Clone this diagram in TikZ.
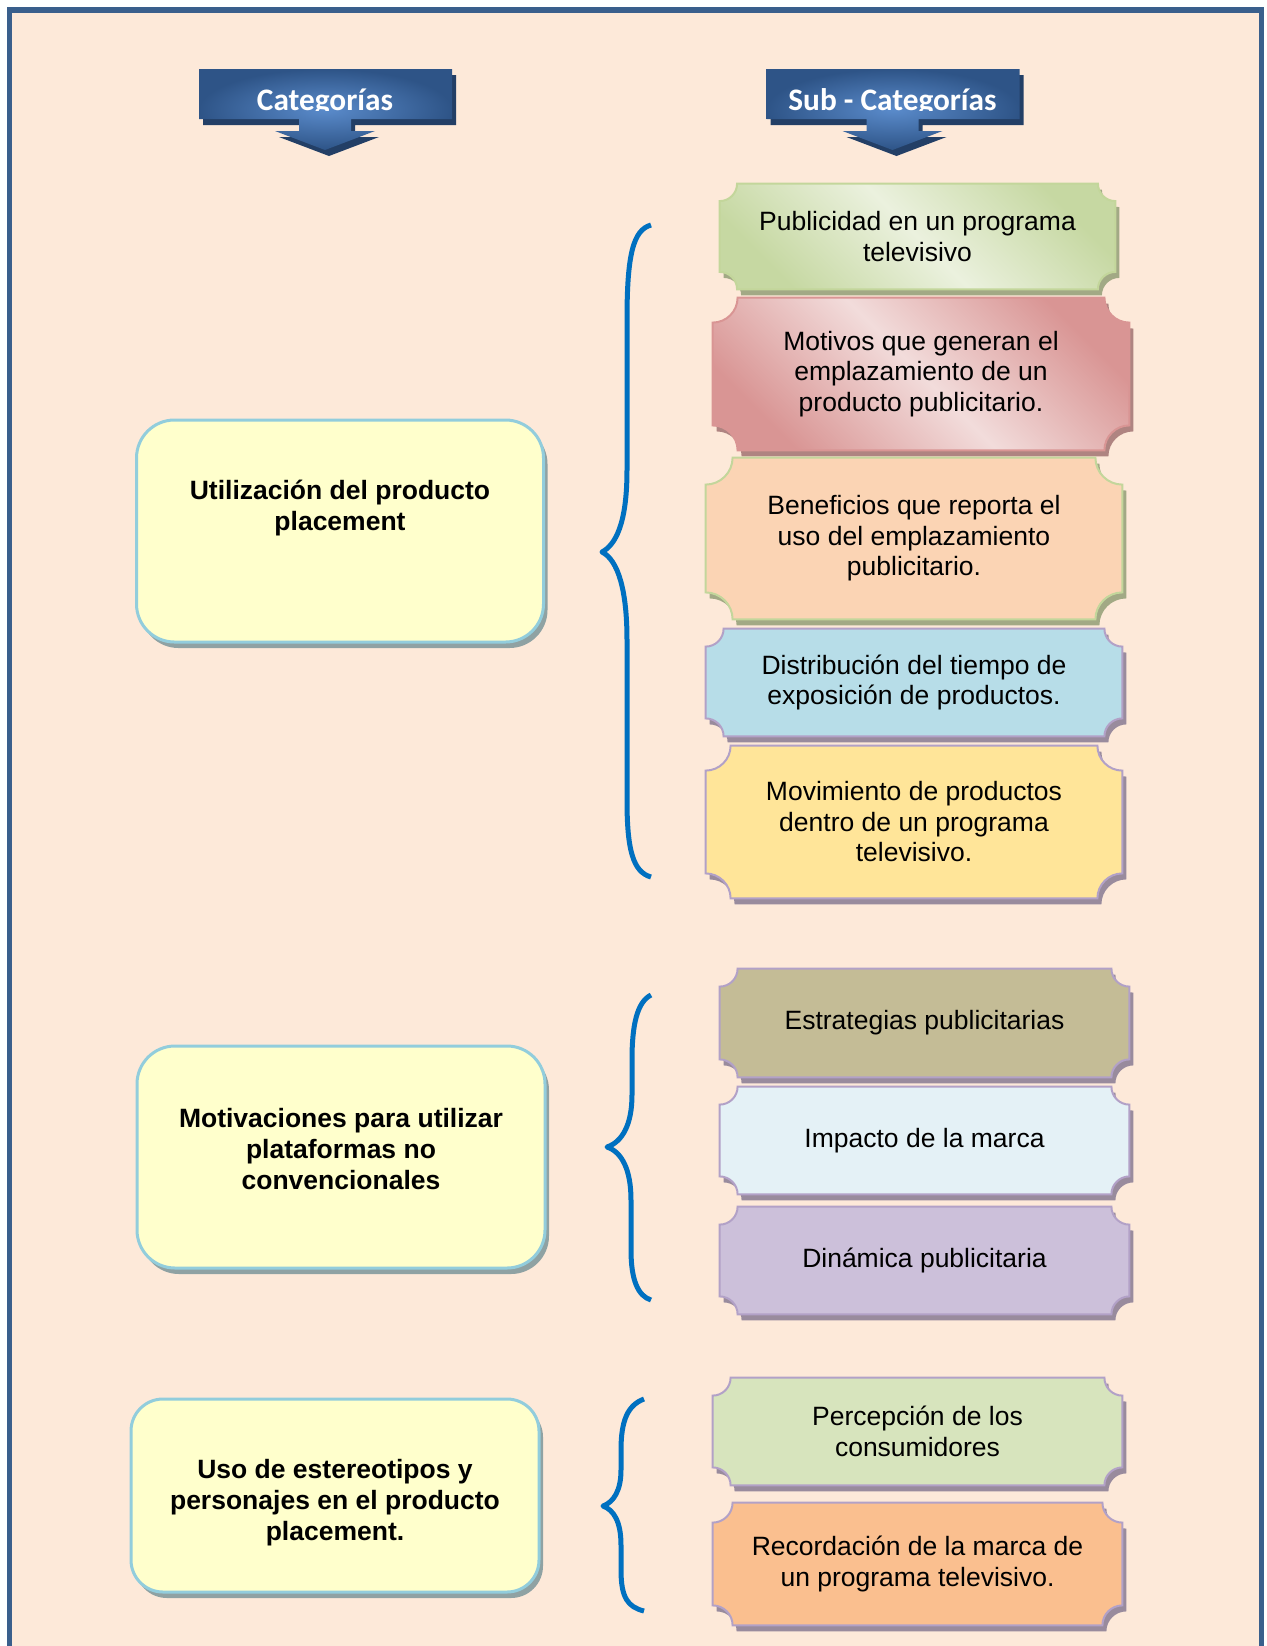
\documentclass[tikz,border=0pt]{standalone}
\usepackage{fontspec}
\setmainfont{Liberation Sans}
\newfontfamily\bannerfont{Carlito}
\usetikzlibrary{calc,shadows}

\definecolor{paper}{HTML}{FDE9D9}
\definecolor{frame}{HTML}{3A5F8C}
\definecolor{catfill}{HTML}{FFFFCC}
\definecolor{catline}{HTML}{92CDDC}
\definecolor{catshadow}{HTML}{8FA2A3}
\definecolor{bracecol}{HTML}{0070C0}
\definecolor{bannerlight}{HTML}{5A8BCB}
\definecolor{bannerdark}{HTML}{2E5487}
\definecolor{bannershade}{HTML}{233F66}
\definecolor{greenline}{HTML}{C3D69B}
\definecolor{greendark}{HTML}{C6D8A2}
\definecolor{greenlight}{HTML}{EBF1DE}
\definecolor{pinkline}{HTML}{D99594}
\definecolor{pinklight}{HTML}{F2DCDB}
\definecolor{lilacline}{HTML}{B2A1C7}
\definecolor{fillbenef}{HTML}{FBD4B4}
\definecolor{filldist}{HTML}{B7DDE8}
\definecolor{fillmov}{HTML}{FFE599}
\definecolor{fillestr}{HTML}{C4BC96}
\definecolor{fillimp}{HTML}{E4F1F6}
\definecolor{filldin}{HTML}{CCC0DA}
\definecolor{fillperc}{HTML}{D7E4BD}
\definecolor{fillrec}{HTML}{FABF8F}

\pgfdeclarelayer{paper}
\pgfdeclarelayer{back}
\pgfsetlayers{paper,back,main}

% Schild mit eingezogenen Ecken um einen Knoten
\newcommand\plaquepath[2]{($(#1.north west)+(#2,0)$) -- ($(#1.north east)+(-#2,0)$)
  .. controls +(0,0.552*#2) and +(-0.552*#2,0) .. ($(#1.north east)+(0,#2)$)
  -- ($(#1.south east)+(0,-#2)$)
  .. controls +(-0.552*#2,0) and +(0,-0.552*#2) .. ($(#1.south east)+(-#2,0)$)
  -- ($(#1.south west)+(#2,0)$)
  .. controls +(0,-0.552*#2) and +(0.552*#2,0) .. ($(#1.south west)+(0,-#2)$)
  -- ($(#1.north west)+(0,#2)$)
  .. controls +(0.552*#2,0) and +(0,0.552*#2) .. ($(#1.north west)+(#2,0)$) -- cycle}
\newcommand\plaque[4]{%
  \begin{pgfonlayer}{back}
    \path[draw=#3, line width=1pt,
      drop shadow={shadow xshift=2pt, shadow yshift=-3pt, fill=#3!72!black, opacity=.8}, #4]
      \plaquepath{#1}{#2};
  \end{pgfonlayer}}

\tikzset{
  catbox/.style={draw=catline, line width=1.5pt, fill=catfill, rounded corners=19pt,
    drop shadow={shadow xshift=2pt, shadow yshift=-3pt, fill=catshadow, opacity=1}},
  cattext/.style={font=\fontsize{13.25}{15.5}\selectfont\bfseries, align=center, inner sep=0pt},
  subbox/.style={align=center, inner sep=0pt, font=\fontsize{13.25}{15.25}\selectfont},
  curly/.style={draw=bracecol, line width=2.5pt, line join=round},
  banner/.style={inner color=bannerlight, outer color=bannerdark,
    drop shadow={shadow xshift=2pt, shadow yshift=-3pt, fill=bannershade, opacity=1}},
  bannertext/.style={font=\bannerfont\bfseries\fontsize{15.65}{18}\selectfont, text=white, inner sep=0pt},
}

\begin{document}
\begin{tikzpicture}[x=0.5pt, y=-0.5pt]
\useasboundingbox (0,0) rectangle (1267,1646);
% Hintergrund und Rahmen
\begin{pgfonlayer}{paper}
  \filldraw[fill=paper, draw=frame, line width=2.75pt] (9.5,10) rectangle (1261.5,1700);
\end{pgfonlayer}
% Kopfbanner mit Pfeil
\foreach \cx/\nm/\txt in {325/cathead/Categorías, 892.5/subhead/Sub - Categorías}{
  \path[banner] (\cx-126,69) -- (\cx+127,69) -- (\cx+127,119) -- (\cx+26,119) -- (\cx+26,131)
    -- (\cx+50,131) -- (\cx,150) -- (\cx-50,131) -- (\cx-26,131) -- (\cx-26,119)
    -- (\cx-126,119) -- cycle;
  \begin{scope}
    \clip (\cx-126,69) rectangle (\cx+127,110.5);
    \node[bannertext, anchor=base] (\nm) at (\cx,110) {\txt};
  \end{scope}
}
% Kategorien links
\node[catbox, minimum width=203.5pt, minimum height=111pt] (c1) at (340,531) {};
\node[cattext] (c1t) at ([yshift=11.5pt]c1.center) {Utilización del producto\\placement};
\node[catbox, minimum width=204pt, minimum height=111pt] (c2) at (341,1157) {};
\node[cattext] (c2t) at ([yshift=4pt]c2.center) {Motivaciones para utilizar\\plataformas no\\convencionales};
\node[catbox, rounded corners=16pt, minimum width=204pt, minimum height=96.5pt] (c3) at (335,1495.5) {};
\node[cattext] (c3t) at ([yshift=-3.5pt]c3.center) {Uso de estereotipos y\\personajes en el producto\\placement.};
% Unterkategorien rechts
\node[subbox, minimum width=197.5pt, minimum height=52.5pt] (s1) at (917.5,236.5) {Publicidad en un programa\\televisivo};
\plaque{s1}{17.5}{greenline}{top color=greendark, bottom color=greendark, middle color=greenlight, shading angle=-45}
\node[subbox, minimum width=208pt, minimum height=76pt] (s2) at (921,374) {Motivos que generan el\\emplazamiento de un\\producto publicitario.};
\plaque{s2}{25}{pinkline}{top color=pinkline, bottom color=pinkline, middle color=pinklight, shading angle=-45}
\node[subbox, minimum width=208pt, minimum height=80.5pt] (s3) at (914,538.5) {Beneficios que reporta el\\uso del emplazamiento\\publicitario.};
\plaque{s3}{27}{greenline}{fill=fillbenef}
\node[subbox, minimum width=208pt, minimum height=53.5pt] (s4) at (914,682.5) {Distribución del tiempo de\\exposición de productos.};
\plaque{s4}{18}{lilacline}{fill=filldist}
\node[subbox, minimum width=208pt, minimum height=76pt] (s5) at (914,822) {Movimiento de productos\\dentro de un programa\\televisivo.};
\plaque{s5}{25}{lilacline}{fill=fillmov}
\node[subbox, minimum width=204.5pt, minimum height=54pt] (s6) at (924.5,1023) {Estrategias publicitarias};
\plaque{s6}{18}{lilacline}{fill=fillestr}
\node[subbox, minimum width=204.5pt, minimum height=53.5pt] (s7) at (924.5,1140.5) {Impacto de la marca};
\plaque{s7}{18}{lilacline}{fill=fillimp}
\node[subbox, minimum width=204.5pt, minimum height=53.5pt] (s8) at (924.5,1260.5) {Dinámica publicitaria};
\plaque{s8}{18}{lilacline}{fill=filldin}
\node[subbox, minimum width=204.5pt, minimum height=53.5pt] (s9) at (917.5,1431.5) {Percepción de los\\consumidores};
\plaque{s9}{18}{lilacline}{fill=fillperc}
\node[subbox, minimum width=204.5pt, minimum height=61pt] (s10) at (917.5,1564) {Recordación de la marca de\\un programa televisivo.};
\plaque{s10}{20}{lilacline}{fill=fillrec}
% Klammern
\coordinate (b1top) at (651,225);
\coordinate (b1tip) at (602,552);
\coordinate (b1bot) at (651,877);
\coordinate (b2top) at (651,995);
\coordinate (b2tip) at (607,1147);
\coordinate (b2bot) at (651,1300);
\coordinate (b3top) at (644,1399);
\coordinate (b3tip) at (603,1506);
\coordinate (b3bot) at (644,1611);
\draw[curly] (b1top) .. controls (633,230) and (627,255) .. (627,320) -- (627,470)
  .. controls (627,525) and (615,545) .. (b1tip) .. controls (618,560) and (627,590) .. (627,640)
  -- (627,800) .. controls (627,850) and (633,872) .. (b1bot);
\draw[curly] (b2top) .. controls (637,1002) and (632,1025) .. (632,1060) -- (632,1095)
  .. controls (632,1125) and (622,1142) .. (b2tip) .. controls (622,1152) and (631,1170) .. (631,1200)
  -- (631,1250) .. controls (631,1280) and (638,1296) .. (b2bot);
\draw[curly] (b3top) .. controls (628,1405) and (621,1420) .. (621,1450) -- (621,1470)
  .. controls (621,1490) and (614,1502) .. (b3tip) .. controls (614,1510) and (621,1522) .. (621,1545)
  -- (621,1570) .. controls (621,1598) and (628,1607) .. (b3bot);
\end{tikzpicture}
\end{document}
